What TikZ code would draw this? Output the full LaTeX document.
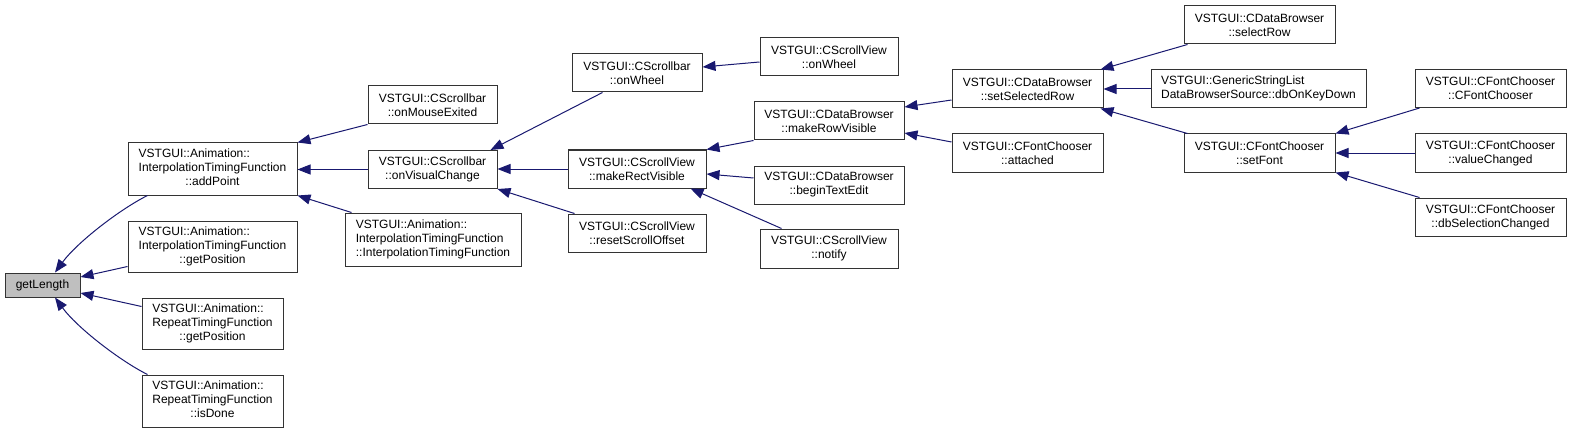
\documentclass[tikz,border=0pt]{standalone}
\usepackage{fontspec}
\setmainfont{Liberation Sans}
\usetikzlibrary{arrows.meta,calc}
\definecolor{edgecol}{HTML}{191970}
\definecolor{rootfill}{HTML}{BFBFBF}
\definecolor{boxline}{HTML}{333333}
\newcommand{\tlab}[3]{\begin{tabular}{@{}l@{}}#1\\#2\\\multicolumn{1}{@{}c@{}}{#3}\end{tabular}}
\tikzset{
  fn/.style={draw=boxline, line width=1pt, fill=white, inner sep=0pt, align=center,
    font=\fontsize{12}{14}\selectfont, minimum height=38pt},
  edge/.style={draw=edgecol, line width=1pt, -{Triangle[length=13pt,width=10pt]}, fill=none},
}
\begin{document}
\begin{tikzpicture}[x=1pt,y=-1pt]
\useasboundingbox (0,0) rectangle (1571,433);
% column 0
\node[fn, fill=rootfill, minimum width=75pt, minimum height=24pt] (getLength) at (42.5,285) {getLength};
% column 1
\node[fn, minimum width=169pt, minimum height=52pt] (addPoint) at (212.5,169) {\tlab{VSTGUI::Animation::}{InterpolationTimingFunction}{::addPoint}};
\node[fn, minimum width=169pt, minimum height=51pt] (getPosI) at (212.5,246.5) {\tlab{VSTGUI::Animation::}{InterpolationTimingFunction}{::getPosition}};
\node[fn, minimum width=141pt, minimum height=51pt] (getPosR) at (212.5,323.5) {\tlab{VSTGUI::Animation::}{RepeatTimingFunction}{::getPosition}};
\node[fn, minimum width=141pt, minimum height=52pt] (isDone) at (212.5,401) {\tlab{VSTGUI::Animation::}{RepeatTimingFunction}{::isDone}};
% column 2
\node[fn, minimum width=129pt] (mouseExited) at (432.5,105) {VSTGUI::CScrollbar\\::onMouseExited};
\node[fn, minimum width=129pt] (visualChange) at (432.5,169.5) {VSTGUI::CScrollbar\\::onVisualChange};
\node[fn, minimum width=176pt, minimum height=53pt] (itfCtor) at (433,239.5) {\tlab{VSTGUI::Animation::}{InterpolationTimingFunction}{::InterpolationTimingFunction}};
% column 3
\node[fn, minimum width=130pt] (sbWheel) at (637,73) {VSTGUI::CScrollbar\\::onWheel};
\node[fn, minimum width=138pt] (rectVisible) at (637,169) {VSTGUI::CScrollView\\::makeRectVisible};
\node[fn, minimum width=138pt] (resetOffset) at (637,233) {VSTGUI::CScrollView\\::resetScrollOffset};
% column 4
\node[fn, minimum width=138pt] (svWheel) at (829,57) {VSTGUI::CScrollView\\::onWheel};
\node[fn, minimum width=150pt] (rowVisible) at (829,121) {VSTGUI::CDataBrowser\\::makeRowVisible};
\node[fn, minimum width=150pt] (beginEdit) at (829,185) {VSTGUI::CDataBrowser\\::beginTextEdit};
\node[fn, minimum width=138pt, minimum height=39pt] (notify) at (829,248.5) {VSTGUI::CScrollView\\::notify};
% column 5
\node[fn, minimum width=151pt] (selRow) at (1027.5,89) {VSTGUI::CDataBrowser\\::setSelectedRow};
\node[fn, minimum width=151pt] (attached) at (1027.5,153) {VSTGUI::CFontChooser\\::attached};
% column 6
\node[fn, minimum width=151pt] (selectRow) at (1259.5,25) {VSTGUI::CDataBrowser\\::selectRow};
\node[fn, minimum width=215pt] (keyDown) at (1258.5,89) {\begin{tabular}{@{}l@{}}VSTGUI::GenericStringList\\DataBrowserSource::dbOnKeyDown\end{tabular}};
\node[fn, minimum width=151pt] (setFont) at (1259.5,153) {VSTGUI::CFontChooser\\::setFont};
% column 7
\node[fn, minimum width=151pt] (fcCtor) at (1490.5,88.5) {VSTGUI::CFontChooser\\::CFontChooser};
\node[fn, minimum width=151pt] (valueChanged) at (1490.5,153) {VSTGUI::CFontChooser\\::valueChanged};
\node[fn, minimum width=151pt] (dbSel) at (1490.5,217) {VSTGUI::CFontChooser\\::dbSelectionChanged};
% edges into getLength
\draw[edge] ($(addPoint.south west)+(20,0)$) .. controls +(-28,14) and +(22,-30) .. ($(getLength.north)+(12.5,0)$);
\draw[edge] ($(getPosI.south west)+(0,-6)$) -- ($(getLength.east)+(0,-8)$);
\draw[edge] ($(getPosR.north west)+(0,9)$) -- ($(getLength.east)+(0,8)$);
\draw[edge] ($(isDone.north west)+(6,0)$) .. controls +(-28,-14) and +(22,30) .. ($(getLength.south)+(12.5,0)$);
% edges into addPoint
\draw[edge] (mouseExited.south west) -- (addPoint.north east);
\draw[edge] (visualChange.west) -- (visualChange.west -| addPoint.east);
\draw[edge] ($(itfCtor.north west)+(7,0)$) -- (addPoint.south east);
% edges into onVisualChange
\draw[edge] ($(sbWheel.south west)+(31,0)$) -- ($(visualChange.north east)+(-7,0)$);
\draw[edge] (rectVisible.west) -- (rectVisible.west -| visualChange.east);
\draw[edge] ($(resetOffset.north west)+(7,0)$) -- (visualChange.south east);
% edges into CScrollbar::onWheel
\draw[edge] ($(svWheel.west)+(0,5)$) -- ($(sbWheel.east)+(0,-6)$);
% edges into makeRectVisible
\draw[edge] (rowVisible.south west) -- (rectVisible.north east);
\draw[edge] ($(beginEdit.west)+(0,-7)$) -- ($(rectVisible.east)+(0,5)$);
\draw[edge] ($(notify.north west)+(22,0)$) -- ($(rectVisible.south east)+(-16,0)$);
% edges into makeRowVisible
\draw[edge] ($(selRow.west)+(0,11)$) -- ($(rowVisible.east)+(0,-14)$);
\draw[edge] ($(attached.west)+(0,-11)$) -- ($(rowVisible.east)+(0,12)$);
% edges into setSelectedRow
\draw[edge] ($(selectRow.south west)+(4,0)$) -- ($(selRow.north east)+(-3,0)$);
\draw[edge] (keyDown.west) -- (selRow.east);
\draw[edge] ($(setFont.north west)+(4,0)$) -- ($(selRow.south east)+(-3,0)$);
% edges into setFont
\draw[edge] ($(fcCtor.south west)+(5,0)$) -- (setFont.north east);
\draw[edge] (valueChanged.west) -- (setFont.east);
\draw[edge] ($(dbSel.north west)+(5,0)$) -- (setFont.south east);
\end{tikzpicture}
\end{document}
